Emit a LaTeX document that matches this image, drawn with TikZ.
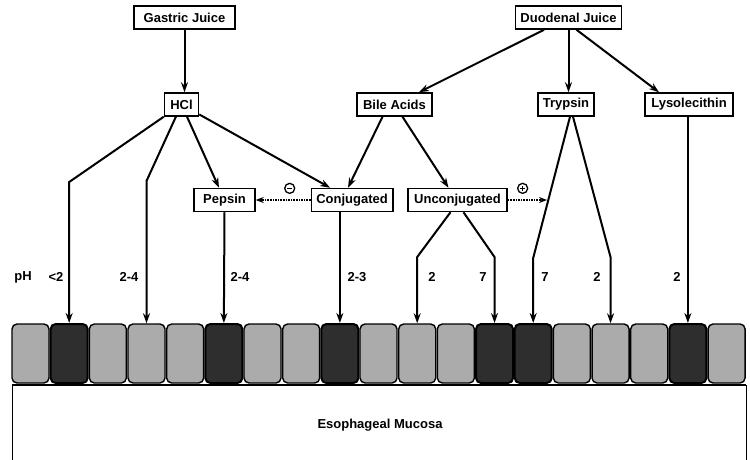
\documentclass[tikz,border=0pt]{standalone}
\usepackage{fontspec}
\setmainfont{Liberation Sans}
\usetikzlibrary{arrows.meta}

\tikzset{
  box/.style={draw,rectangle,line width=1.5pt,minimum height=23pt,inner xsep=5pt,font=\fontsize{13}{15}\bfseries},
  arr/.style={-{Stealth[length=10pt,width=7pt]},line width=2pt},
  dotarr/.style={-{Stealth[length=8pt,width=6pt]},line width=1.6pt,densely dotted},
  lightcell/.style={draw,rounded corners=5pt,line width=1.4pt,fill=black!33,minimum width=37pt,minimum height=59pt,inner sep=0pt},
  darkcell/.style={lightcell,fill=black!82,line width=2pt},
  phlabel/.style={font=\fontsize{13}{15}\bfseries},
  sign/.style={circle,draw,solid,line width=1.3pt,minimum size=10pt,inner sep=0pt},
  signminus/.style={sign,path picture={
    \draw[-,solid,line width=1.3pt] ([xshift=-2.6pt]path picture bounding box.center)--([xshift=2.6pt]path picture bounding box.center);}},
  signplus/.style={sign,path picture={
    \draw[-,solid,line width=1.3pt] ([xshift=-2.6pt]path picture bounding box.center)--([xshift=2.6pt]path picture bounding box.center)
      ([yshift=-2.6pt]path picture bounding box.center)--([yshift=2.6pt]path picture bounding box.center);}}
}

\begin{document}
\begin{tikzpicture}[x=1pt,y=-1pt]
  \useasboundingbox (0,0) rectangle (750,460);

  % juices and agents
  \node[box,minimum width=101pt] (gastric) at (184.5,17.5) {Gastric Juice};
  \node[box,minimum width=101pt] (duodenal) at (568.5,17.5) {Duodenal Juice};
  \node[box,minimum width=34pt] (hcl) at (181.5,104.5) {HCl};
  \node[box,minimum width=75pt] (bile) at (394.5,104.5) {Bile Acids};
  \node[box,minimum width=50pt] (trypsin) at (566,104.5) {Trypsin};
  \node[box,minimum width=88pt] (lyso) at (689,104.5) {Lysolecithin};
  \node[box,minimum width=61pt] (pepsin) at (224.5,200) {Pepsin};
  \node[box,minimum width=80pt] (conj) at (352,200) {Conjugated};
  \node[box,minimum width=99pt] (unconj) at (457.5,200) {Unconjugated};

  % epithelium
  \foreach \i in {1,3,4,5,7,8,10,11,12,15,16,17,19}
    \node[lightcell] (c\i) at ({30.5+(\i-1)*38.67},353.5) {};
  \foreach \i in {2,6,9,13,14,18}
    \node[darkcell] (c\i) at ({30.5+(\i-1)*38.67},353.5) {};

  \draw [line width=1pt] (12,460)--(12,385)--(746,385)--(746,460);
  \draw [line width=2.4pt] (12,385)--(746,385);
  \node[phlabel] (mucosa) at (380,425) {Esophageal Mucosa};

  % bends
  \coordinate (kA) at (69.2,182);
  \coordinate (kB) at (146.5,181);
  \coordinate (kC) at (417.2,257);
  \coordinate (kD) at (494.5,257);
  \coordinate (kE) at (533.2,258);
  \coordinate (kF) at (610.5,257);
  \coordinate (tend) at (547,200);

  \draw [arr] (gastric.south)--(gastric.south |- hcl.north);
  \draw [arr] (duodenal)--(bile);
  \draw [arr] (duodenal.south)--(duodenal.south |- trypsin.north);
  \draw [arr] ([xshift=8pt]duodenal.south)--([xshift=-30pt]lyso.north);

  \draw [arr] (hcl)--(kA)--(c2.north);
  \draw [arr] (hcl)--(kB)--(c4.north);
  \draw [arr] (hcl)--(pepsin);
  \draw [arr] (hcl)--(conj);
  \draw [arr] ([xshift=-12pt]bile.south)--([xshift=-4pt]conj.north);
  \draw [arr] ([xshift=8pt]bile.south)--([xshift=-9pt]unconj.north);

  \draw [arr] (pepsin.south)--(c6.north);
  \draw [arr] (conj.south -| c9.north)--(c9.north);
  \draw [arr] ([xshift=-7pt]unconj.south)--(kC)--(c11.north);
  \draw [arr] ([xshift=6pt]unconj.south)--(kD)--(c13.north);
  \draw [arr] ([xshift=4pt]trypsin.south)--(kE)--(c14.north);
  \draw [arr] ([xshift=7pt]trypsin.south)--(kF)--(c16.north);
  \draw [arr] (lyso.south -| c18.north)--(c18.north);

  \draw [dotarr] (conj)--node[signminus,pos=0.38,above=6pt] (minus) {} (pepsin);
  \draw [dotarr] (unconj)--node[signplus,pos=0.38,above=6pt] (plus) {} (tend);

  % pH values
  \node[phlabel] (ph) at (23,277) {pH};
  \node[phlabel] (ph2) at (56,277) {<2};
  \node[phlabel] (ph4) at (129,277) {2-4};
  \node[phlabel] (ph6) at (240,277) {2-4};
  \node[phlabel] (ph9) at (357,277) {2-3};
  \node[phlabel] (ph11) at (432,277) {2};
  \node[phlabel] (ph13) at (483,277) {7};
  \node[phlabel] (ph14) at (545,277) {7};
  \node[phlabel] (ph16) at (597,277) {2};
  \node[phlabel] (ph18) at (677,277) {2};
\end{tikzpicture}
\end{document}
